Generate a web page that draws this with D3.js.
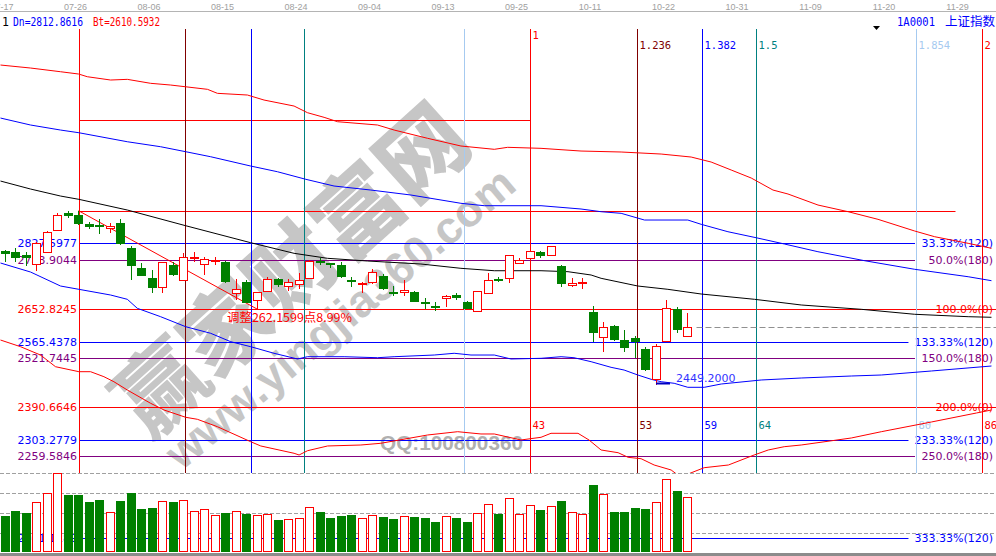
<!DOCTYPE html>
<html><head><meta charset="utf-8">
<script src="https://cdn.jsdelivr.net/npm/d3@7"></script>
<style>body{margin:0;background:#fff;overflow:hidden}svg{display:block}</style>
</head><body>
<svg id="c" width="996" height="556"></svg>
<script>
// ---------------- DATA ----------------
const dateLabels = ["07-17","07-26","08-06","08-15","08-24","09-04","09-13","09-25","10-11","10-22","10-31","11-09","11-20","11-29"];
const dateIndex  = [0,7,14,21,28,35,42,49,56,63,70,77,84,91];

const open  = [2807.5,2804.0,2796.8,2772.0,2805.6,2863.5,2908.0,2903.5,2879.5,2878.1,2868.0,2881.3,2814.7,2761.3,2734.7,2712.3,2770.1,2730.1,2788.8,2772.0,2782.1,2778.9,2694.7,2725.6,2676.8,2701.6,2732.8,2714.9,2719.5,2736.3,2780.0,2774.7,2770.1,2729.3,2718.7,2724.0,2740.8,2697.3,2698.9,2698.9,2670.7,2660.0,2681.3,2690.1,2672.3,2647.5,2696.3,2732.8,2734.7,2774.7,2788.0,2805.6,2796.8,2768.3,2716.0,2722.1,2644.8,2577.3,2607.5,2570.1,2575.5,2546.1,2465.3,2568.3,2652.0,2581.6];
const high  = [2810.2,2814.7,2804.8,2832.3,2861.6,2908.0,2914.1,2914.98,2885.6,2892.8,2881.3,2892.0,2820.8,2776.3,2756.8,2779.5,2778.9,2802.9,2805.6,2790.7,2790.7,2780.8,2732.0,2730.1,2698.2,2737.3,2734.2,2732.8,2748.0,2783.5,2788.0,2776.3,2778.9,2738.9,2726.1,2758.7,2745.3,2714.1,2730.1,2700.8,2681.3,2672.3,2690.1,2694.7,2674.1,2702.1,2748.0,2738.9,2798.1,2788.0,2826.1,2807.5,2822.1,2770.1,2734.7,2736.8,2660.8,2617.3,2610.1,2596.8,2580.8,2551.5,2558.7,2676.8,2658.9,2642.9];
const low   = [2778.9,2778.1,2767.5,2754.9,2803.5,2862.1,2894.7,2876.8,2865.3,2852.0,2854.7,2824.8,2730.1,2739.5,2694.7,2696.3,2740.8,2728.8,2778.9,2743.5,2770.1,2722.9,2676.8,2668.8,2652.8245,2700.8,2710.7,2701.6,2705.3,2735.5,2770.1,2762.9,2736.3,2712.3,2696.3,2720.8,2704.8,2687.5,2687.5,2670.7,2652.0,2648.3,2657.3,2676.8,2651.5,2646.2,2695.5,2725.6,2721.3,2772.0,2783.5,2788.0,2794.1,2712.3,2712.3,2705.3,2564.0,2538.9,2567.5,2538.9,2521.3,2487.5,2449.2,2567.5,2588.0,2580.8];
const close = [2798.7,2788.0,2788.8,2829.6,2857.3,2902.7,2901.6,2879.5,2872.3,2875.5,2874.9,2826.1,2768.3,2741.6,2708.0,2777.3,2743.5,2792.3,2792.8,2785.3,2784.8,2725.6,2705.3,2669.6,2697.3,2732.8,2716.8,2724.0,2730.1,2780.8,2778.1,2770.1,2738.9,2726.9,2722.9,2752.3,2706.1,2695.5,2703.5,2672.3,2668.8,2658.1,2687.5,2682.9,2652.0,2700.8,2730.1,2730.9,2796.8,2783.5,2807.5,2794.1,2820.8,2718.7,2722.9,2724.3,2588.0,2605.6,2570.1,2549.6,2564.8,2490.1,2553.3,2654.7,2596.8,2604.0];
const volume= [1098,1248,1188,1509,1770,2370,1719,1719,1509,1578,1200,1548,1779,1308,1338,1539,1518,1569,1239,1299,1119,1188,1239,1149,1119,1149,978,999,1029,1359,1218,1038,1098,1128,1029,1119,1068,1008,1089,1068,1038,918,1089,1038,918,1179,1449,1158,1629,1149,1419,1278,1389,1548,1209,1149,2028,1749,1218,1218,1338,1308,1509,2199,1848,1659];
const volGrid = [570,1170,1770,2370];

// indicator curves: [bar index, value]
const upperRed = [[-0.43,3303.5],[2.43,3295.5],[5.29,3285.6],[7.01,3279.5],[7.84,3272.3],[10.06,3263.5],[11.65,3265.3],[13.87,3254.7],[15.78,3250.1],[19.28,3238.7],[20.23,3228.0],[23.09,3223.5],[24.67,3210.1],[27.53,3194.1],[28.81,3176.3],[30.39,3164.0],[31.67,3152.3],[35.48,3143.5],[37.06,3130.1],[40.25,3108.0],[43.42,3087.5],[46.6,3078.7],[47.87,3084.0],[51.05,3081.3],[54.86,3074.1],[58.68,3071.5],[62.49,3066.1],[65.35,3058.1],[67.25,3044.8],[69.16,3023.5],[71.07,3002.1],[73.14,2970.1],[74.57,2959.5],[77.43,2930.1],[80.3,2912.3],[83.14,2892.0],[86.64,2860.8],[88.54,2845.6],[91.73,2828.0],[93.95,2814.7]];
const upperBlue = [[-0.43,3162.1],[2.43,3143.5],[5.29,3130.1],[7.04,3122.9],[11.65,3098.9],[14.82,3085.6],[17.21,3072.3],[19.59,3058.9],[23.4,3034.1],[25.95,3018.9],[28.65,2998.7],[31.34,2980.8],[34.84,2970.1],[38.66,2956.8],[43.42,2934.7],[45.64,2928.3],[51.05,2928.3],[54.86,2919.5],[56.77,2912.3],[58.68,2908.0],[60.9,2890.1],[65.03,2890.1],[66.3,2878.7],[68.85,2858.9],[71.54,2842.9],[74.24,2826.1],[77.42,2805.6],[81.87,2781.6],[86.64,2758.7],[91.73,2738.9],[93.95,2728.3]];
const midBlack = [[-0.43,2994.1],[2.43,2972.8],[5.29,2954.1],[7.04,2945.3],[11.65,2916.8],[17.21,2874.9],[23.4,2829.6],[27.53,2801.3],[30.72,2788.0],[34.53,2780.8],[39.61,2772.8],[43.42,2761.3],[46.6,2754.9],[51.05,2754.9],[53.62,2752.3],[55.82,2743.5],[56.77,2734.7],[60.27,2714.1],[63.13,2705.3],[66.3,2692.8],[71.38,2678.7],[75.83,2663.5],[81.55,2652.0],[86.64,2638.7],[91.73,2632.3],[93.95,2630.7]];
const lowerBlue = [[-0.43,2775.5],[2.43,2751.5],[5.29,2714.1],[7.04,2705.3],[10.06,2690.1],[11.65,2678.7],[12.6,2654.7],[14.82,2632.3],[17.21,2605.6],[19.59,2588.0],[21.5,2565.6],[23.4,2552.3],[25.62,2534.7],[27.86,2519.5],[28.81,2525.6],[32.3,2525.6],[35.48,2522.9],[37.06,2525.6],[40.88,2530.1],[42.78,2534.7],[44.38,2530.1],[46.6,2530.1],[48.19,2519.5],[51.05,2521.3],[52.96,2525.6],[54.19,2522.9],[55.82,2512.3],[57.72,2497.3],[58.96,2490.1],[60.27,2476.8],[61.54,2465.3],[62.49,2458.9],[63.73,2454.7],[65.03,2444.0],[66.6,2444.0],[68.21,2452.8],[72.02,2463.5],[75.83,2468.8],[80.6,2474.1],[83.46,2476.8],[88.23,2487.5],[93.95,2500.8]];
const lowerRed = [[-0.43,2570.1],[1.48,2552.3],[3.38,2530.1],[4.81,2498.9],[7.04,2485.6],[8.15,2485.6],[9.42,2472.3],[10.37,2458.9],[11.65,2436.8],[13.87,2401.3],[15.14,2383.5],[17.21,2364.0],[18.32,2358.7],[20.23,2338.9],[23.4,2298.9],[24.36,2287.5],[27.53,2268.0],[28.01,2263.5],[28.81,2274.9],[30.72,2287.5],[33.89,2290.1],[35.79,2294.7],[40.25,2316.8],[43.11,2325.6],[45.33,2319.5],[46.6,2319.5],[49.14,2303.5],[51.05,2310.7],[52.0,2321.3],[54.57,2321.3],[55.62,2303.5],[56.77,2276.8],[58.39,2269.6],[59.34,2257.3],[60.58,2253.6],[61.82,2236.8],[63.44,2223.5],[64.2,2207.5],[65.06,2212.8],[66.59,2229.6],[68.9,2236.8],[71.35,2263.5],[72.69,2276.8],[74.21,2285.6],[75.83,2290.1],[80.6,2308.8],[83.46,2325.6],[88.23,2351.5],[92.52,2375.5],[93.95,2383.5]];

// Fibonacci price levels
const fibValues = [2827.5977,2783.9044,2652.8245,2565.4378,2521.7445,2390.6646,2303.2779,2259.5846,2041.1189];
const fibLabels = ["33.33%(120)","50.0%(180)","100.0%(0)","133.33%(120)","150.0%(180)","200.0%(0)","233.33%(120)","250.0%(180)","333.33%(120)"];
const topLines = [[7,50,3156.0],[7,90.5,2914.98]];   // [fromBar, toBar, value]
// Fibonacci time zones
const timeBase = 7, timeSpan = 43;
const timeRatios = [0,0.236,0.382,0.5,0.854,1,1.236,1.382,1.5,1.854,2];
const timeTop    = ["","","","","","1","1.236","1.382","1.5","1.854","2"];
const timeBottom = ["","","","","","43","53","59","64","80","86"];
const adjustFrom = [7,2914.98], adjustTo = [24,2652.8245];
const adjustText = "调整262.1599点8.99%";
const lowMark = [62,2449.2];

// ---------------- CHART ----------------
const svg = d3.select("#c");
const x = d3.scaleLinear().domain([0,1]).range([5,15.5]);
const y = d3.scaleLinear().domain([2652.8245,2390.6646]).range([309,407.3]);
const yv = d3.scaleLinear().domain([0,2400]).range([552.3,472.3]);
const RED="#ff0000", BLUE="#0000ff", PURPLE="#800080", GREEN="#008000";
const tColors = ["#ff0000","#800000","#0000ff","#008080","#a6caf0"];
const px = v => Math.round(v)+0.5;
const styleOf = lab => lab.endsWith("(0)") ? RED : lab.endsWith("(120)") ? BLUE : PURPLE;

svg.append("rect").attr("width",996).attr("height",556).attr("fill","#fff");

// watermark
const wm = svg.append("g").attr("fill","#c6c6c6");
wm.append("text").attr("transform","translate(287,265) rotate(-42)")
  .attr("text-anchor","middle").attr("dominant-baseline","central")
  .attr("font-family","Noto Sans CJK SC").attr("font-weight","900").attr("font-size",88)
  .text("赢家财富网");
wm.append("text").attr("transform","translate(340,318) rotate(-40)")
  .attr("text-anchor","middle").attr("dominant-baseline","central")
  .attr("font-family","Liberation Sans, Arial").attr("font-weight","bold").attr("font-size",45)
  .attr("textLength",440).attr("lengthAdjust","spacingAndGlyphs")
  .text("www.yingjia360.com");
svg.append("text").attr("x",380).attr("y",450).attr("fill","#b0b0b0")
  .attr("font-family","Liberation Sans, Arial").attr("font-weight","bold").attr("font-size",20)
  .attr("textLength",143).attr("lengthAdjust","spacingAndGlyphs").text("QQ:100800360");

// date axis
svg.append("line").attr("x1",0).attr("x2",996).attr("y1",11.5).attr("y2",11.5).attr("stroke","#b4b4b4");
svg.append("g").selectAll("text").data(dateLabels).join("text")
  .attr("x",(d,i)=>x(dateIndex[i])-3).attr("y",9.5).attr("text-anchor","middle")
  .attr("font-family","Liberation Sans, Arial").attr("font-size",9).attr("fill","#a0a0a0").text(d=>d);

// header
const hdr = (t,xx,col,len,fam,fs)=>{const e=svg.append("text").attr("x",xx).attr("y",25.5).attr("fill",col)
  .attr("font-family",fam||"DejaVu Sans Mono").attr("font-size",fs||12).text(t);
  if(len) e.attr("textLength",len).attr("lengthAdjust","spacingAndGlyphs"); return e;};
hdr("1",2,"#000",null,"DejaVu Sans Mono",11.5);
hdr("Dn=2812.8616",13,BLUE,70);
hdr("Bt=2610.5932",93,RED,67);
hdr("1A0001",897,BLUE,38);
hdr("上证指数",945,BLUE,50,"Noto Sans CJK SC",12.5);
svg.append("path").attr("d",d3.line()([[873,26],[880,26],[876.5,30]])+"Z").attr("fill","#000");

// top horizontal lines
svg.append("g").selectAll("line").data(topLines).join("line")
  .attr("x1",d=>px(x(d[0]))).attr("x2",d=>px(x(d[1])))
  .attr("y1",d=>px(y(d[2]))).attr("y2",d=>px(y(d[2]))).attr("stroke",RED);

// fib price levels
const fl = svg.append("g");
fibValues.forEach((v,i)=>{
  const col = styleOf(fibLabels[i]); const yy = px(y(v));
  const rt = fl.append("text").attr("x",993).attr("y",yy).attr("dy","0.36em").attr("text-anchor","end")
    .attr("font-family","DejaVu Sans").attr("font-size",11).attr("fill",col).text(fibLabels[i]);
  const w = rt.node().getComputedTextLength();
  const xEnd = col===RED ? 996 : Math.min(915, 993-w-6);
  fl.insert("line","text").attr("x1",px(x(timeBase))).attr("x2",xEnd).attr("y1",yy).attr("y2",yy).attr("stroke",col);
  fl.append("text").attr("x",77).attr("y",yy).attr("dy","0.36em").attr("text-anchor","end")
    .attr("font-family","DejaVu Sans").attr("font-size",11).attr("fill",col).text(v.toFixed(4));
});

// fib time zones
const tz = svg.append("g");
timeRatios.forEach((r,i)=>{
  const xx = px(x(timeBase + r*timeSpan)); const col = tColors[i%5];
  tz.append("line").attr("x1",xx).attr("x2",xx).attr("y1",29).attr("y2",473).attr("stroke",col);
  if(timeTop[i]) tz.append("text").attr("x",xx+2).attr("y",r===1?38.5:48.5).attr("fill",col)
    .attr("font-family","DejaVu Sans Mono").attr("font-size",10.5).text(timeTop[i]);
  if(timeBottom[i]) tz.append("text").attr("x",xx+2).attr("y",428.5).attr("fill",col)
    .attr("font-family","DejaVu Sans Mono").attr("font-size",10.5).text(timeBottom[i]);
});

// curves
svg.append("clipPath").attr("id","pc").append("rect").attr("x",0).attr("y",12).attr("width",996).attr("height",461);
const line = d3.line().x(d=>x(d[0])).y(d=>y(d[1]));
const cg = svg.append("g").attr("clip-path","url(#pc)").attr("fill","none");
[[upperRed,RED],[upperBlue,BLUE],[midBlack,"#000"],[lowerBlue,BLUE],[lowerRed,RED]].forEach(([data,col])=>{
  cg.append("path").attr("d",line(data)).attr("stroke",col).attr("stroke-width",1);
});

// adjust line
svg.append("line").attr("x1",x(adjustFrom[0])).attr("y1",y(adjustFrom[1]))
  .attr("x2",x(adjustTo[0])).attr("y2",y(adjustTo[1])).attr("stroke",RED).attr("stroke-width",1);
svg.append("text").attr("x",x(adjustTo[0])-30).attr("y",y(adjustTo[1])+12.5).attr("fill",RED)
  .attr("font-family","Noto Sans CJK SC").attr("font-size",12)
  .attr("textLength",125).attr("lengthAdjust","spacingAndGlyphs").text(adjustText);

// candles
const kg = svg.append("g").attr("shape-rendering","crispEdges");
open.forEach((o,i)=>{
  const c = close[i], up = c>=o, cx = Math.round(x(i)-0.5);
  const yt = Math.round(y(Math.max(o,c))), yb = Math.round(y(Math.min(o,c)));
  const hy = Math.round(y(high[i])), ly = Math.round(y(low[i]));
  const h = Math.max(yb-yt,1);
  if(up){
    kg.append("line").attr("x1",cx+0.5).attr("x2",cx+0.5).attr("y1",hy).attr("y2",yt).attr("stroke",RED);
    kg.append("line").attr("x1",cx+0.5).attr("x2",cx+0.5).attr("y1",yt+h).attr("y2",ly).attr("stroke",RED);
    kg.append("rect").attr("x",cx-3.5).attr("y",yt+0.5).attr("width",8).attr("height",h)
      .attr("fill","#fff").attr("stroke",RED);
  } else {
    kg.append("line").attr("x1",cx+0.5).attr("x2",cx+0.5).attr("y1",hy).attr("y2",ly).attr("stroke",GREEN);
    kg.append("rect").attr("x",cx-4).attr("y",yt).attr("width",9).attr("height",Math.max(h,2)).attr("fill",GREEN);
  }
});

// last close dashed line
const lc = px(y(close[close.length-1]));
svg.append("line").attr("x1",x(close.length-1)+9).attr("x2",996).attr("y1",lc).attr("y2",lc)
  .attr("stroke","#909090").attr("stroke-dasharray","6,3");

// low marker
svg.append("line").attr("x1",x(lowMark[0])).attr("x2",x(lowMark[0])+14)
  .attr("y1",px(y(lowMark[1]))-2).attr("y2",px(y(lowMark[1]))-2).attr("stroke","#0000c0").attr("stroke-width",2);
svg.append("text").attr("x",x(lowMark[0])+20).attr("y",y(lowMark[1])-3).attr("fill","#3333ff")
  .attr("font-family","DejaVu Sans").attr("font-size",11).text(lowMark[1].toFixed(4));

// volume panel
const vg = svg.append("g").attr("shape-rendering","crispEdges");
vg.selectAll("line.g").data(volGrid).join("line").attr("class","g")
  .attr("x1",0).attr("x2",996).attr("y1",d=>px(yv(d))).attr("y2",d=>px(yv(d)))
  .attr("stroke","#a0a0a0").attr("stroke-dasharray","4,2");
volume.forEach((v,i)=>{
  const up = close[i]>=open[i], cx = Math.round(x(i)-0.5);
  const yt = Math.round(yv(v)), yb = Math.round(yv(0));
  if(up) vg.append("rect").attr("x",cx-3.5).attr("y",yt+0.5).attr("width",8).attr("height",yb-yt-1)
      .attr("fill","#fff").attr("stroke",RED);
  else vg.append("rect").attr("x",cx-4).attr("y",yt).attr("width",9).attr("height",yb-yt).attr("fill",GREEN);
});
svg.append("rect").attr("x",0).attr("y",553).attr("width",996).attr("height",3).attr("fill","#8c8c8c");
</script>
</body></html>
